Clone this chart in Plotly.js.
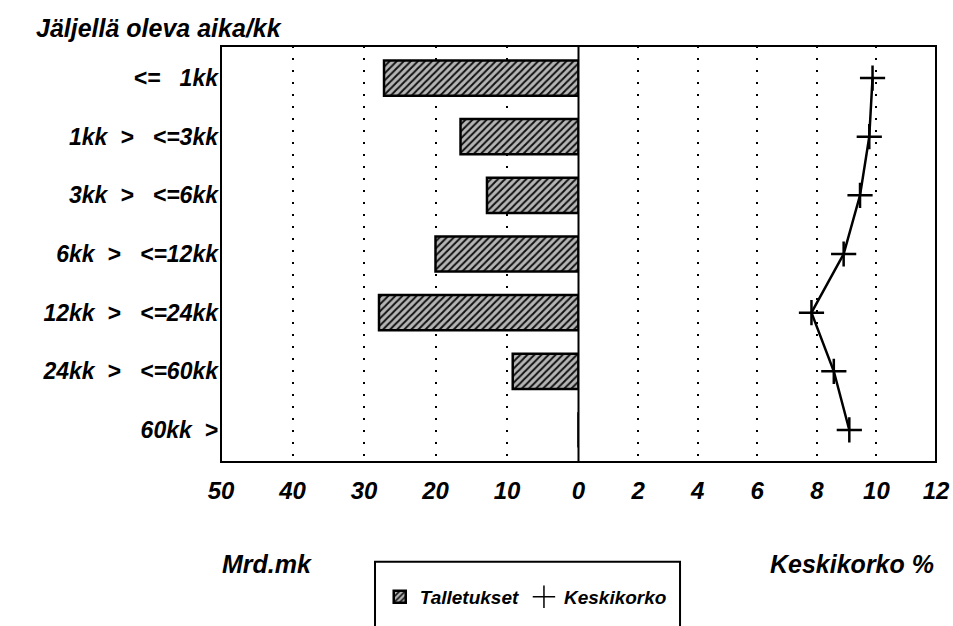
<!DOCTYPE html>
<html>
<head>
<meta charset="utf-8">
<script src="https://cdn.plot.ly/plotly-3.0.1.min.js"></script>
<style>html,body{margin:0;padding:0;background:#fff;}#chart{width:953px;height:626px;}</style>
</head>
<body>
<div id="chart"></div>
<script>
const NB = '\u00a0';
const S2 = NB + NB, S3 = NB + NB + NB;
const categories = [
  '<=' + S3 + '1kk',
  '1kk' + S2 + '>' + S3 + '<=3kk',
  '3kk' + S2 + '>' + S3 + '<=6kk',
  '6kk' + S2 + '>' + S3 + '<=12kk',
  '12kk' + S2 + '>' + S3 + '<=24kk',
  '24kk' + S2 + '>' + S3 + '<=60kk',
  '60kk' + S2 + '>'
];
const talletukset = [27.2, 16.5, 12.8, 20.0, 27.9, 9.2, 0];
const keskikorko = [9.87, 9.76, 9.45, 8.9, 7.82, 8.57, 9.09];
const leftTicks = [50, 40, 30, 20, 10, 0];
const rightTicks = [2, 4, 6, 8, 10, 12];

const FONT = 'Liberation Sans, Arial, sans-serif';
const tickFont = {family: FONT, size: 24, color: '#000', style: 'italic', weight: 'bold'};

const traces = [
  {
    type: 'bar', orientation: 'h', name: 'Talletukset',
    x: talletukset, y: categories, xaxis: 'x', yaxis: 'y', width: 0.6,
    marker: {color: '#aaa', line: {color: '#000', width: 2.5},
      pattern: {shape: '/', fgcolor: '#111', bgcolor: '#b5b5b5', size: 5, solidity: 0.4}},
    showlegend: true, hoverinfo: 'x+y'
  },
  {
    type: 'scatter', mode: 'lines+markers', name: 'Keskikorko',
    x: keskikorko, y: categories, xaxis: 'x2', yaxis: 'y',
    line: {color: '#000', width: 2.5},
    marker: {symbol: 'cross-thin', size: 18, line: {color: '#000', width: 2.5}},
    showlegend: false
  },
  {
    type: 'scatter', mode: 'markers', name: 'Keskikorko',
    x: [null], y: [null], xaxis: 'x2', yaxis: 'y',
    marker: {symbol: 'cross-thin', size: 18, line: {color: '#000', width: 1.5}},
    showlegend: true
  }
];

const layout = {
  width: 953, height: 626,
  margin: {l: 221, r: 17, t: 46, b: 163},
  paper_bgcolor: '#fff', plot_bgcolor: '#fff',
  showlegend: true,
  legend: {
    orientation: 'h', x: 0.222, xanchor: 'left', y: -0.321, yanchor: 'middle',
    bgcolor: 'rgba(0,0,0,0)', borderwidth: 0,
    font: {family: FONT, size: 19, color: '#000', style: 'italic', weight: 'bold'},
    itemwidth: 30, tracegroupgap: 0
  },
  xaxis: {
    domain: [0, 0.5], range: [50, 0], tickvals: leftTicks, ticktext: leftTicks.map(String),
    showgrid: true, gridcolor: '#000', gridwidth: 2, griddash: '2px,10px',
    zeroline: false, showline: false, ticks: '', tickfont: tickFont, ticklabelstandoff: 12,
    anchor: 'y'
  },
  xaxis2: {
    domain: [0.5, 1], range: [0, 12], tickvals: rightTicks, ticktext: rightTicks.map(String),
    showgrid: true, gridcolor: '#000', gridwidth: 2, griddash: '2px,10px',
    zeroline: false, showline: false, ticks: '', tickfont: tickFont, ticklabelstandoff: 12,
    anchor: 'y'
  },
  yaxis: {
    type: 'category', autorange: 'reversed', showgrid: false, zeroline: false,
    showline: false, ticks: '',
    tickfont: {family: FONT, size: 23, color: '#000', style: 'italic', weight: 'bold'},
    ticklabelstandoff: 2
  },
  shapes: [
    {type: 'rect', xref: 'paper', yref: 'paper', x0: 0, x1: 1, y0: 0, y1: 1,
     line: {color: '#000', width: 2}, layer: 'above'},
    {type: 'line', xref: 'paper', yref: 'paper', x0: 0.5, x1: 0.5, y0: 0, y1: 1,
     line: {color: '#000', width: 2}, layer: 'above'},
    {type: 'rect', xref: 'paper', yref: 'paper', x0: 0.2154, x1: 0.642, y0: -0.2398, y1: -0.45,
     line: {color: '#000', width: 2}, layer: 'below'}
  ],
  annotations: [
    {text: 'Jäljellä oleva aika/kk', xref: 'paper', yref: 'paper', x: -0.262, y: 1.043,
     xanchor: 'left', yanchor: 'middle', showarrow: false,
     font: {family: FONT, size: 25, color: '#000', style: 'italic', weight: 'bold'}},
    {text: 'Mrd.mk', xref: 'paper', yref: 'paper', x: -0.002, y: -0.245,
     xanchor: 'left', yanchor: 'middle', showarrow: false,
     font: {family: FONT, size: 25, color: '#000', style: 'italic', weight: 'bold'}},
    {text: 'Keskikorko %', xref: 'paper', yref: 'paper', x: 1.0, y: -0.245,
     xanchor: 'right', yanchor: 'middle', showarrow: false,
     font: {family: FONT, size: 25, color: '#000', style: 'italic', weight: 'bold'}}
  ]
};

Plotly.newPlot('chart', traces, layout, {displayModeBar: false, staticPlot: true});
</script>
</body>
</html>
